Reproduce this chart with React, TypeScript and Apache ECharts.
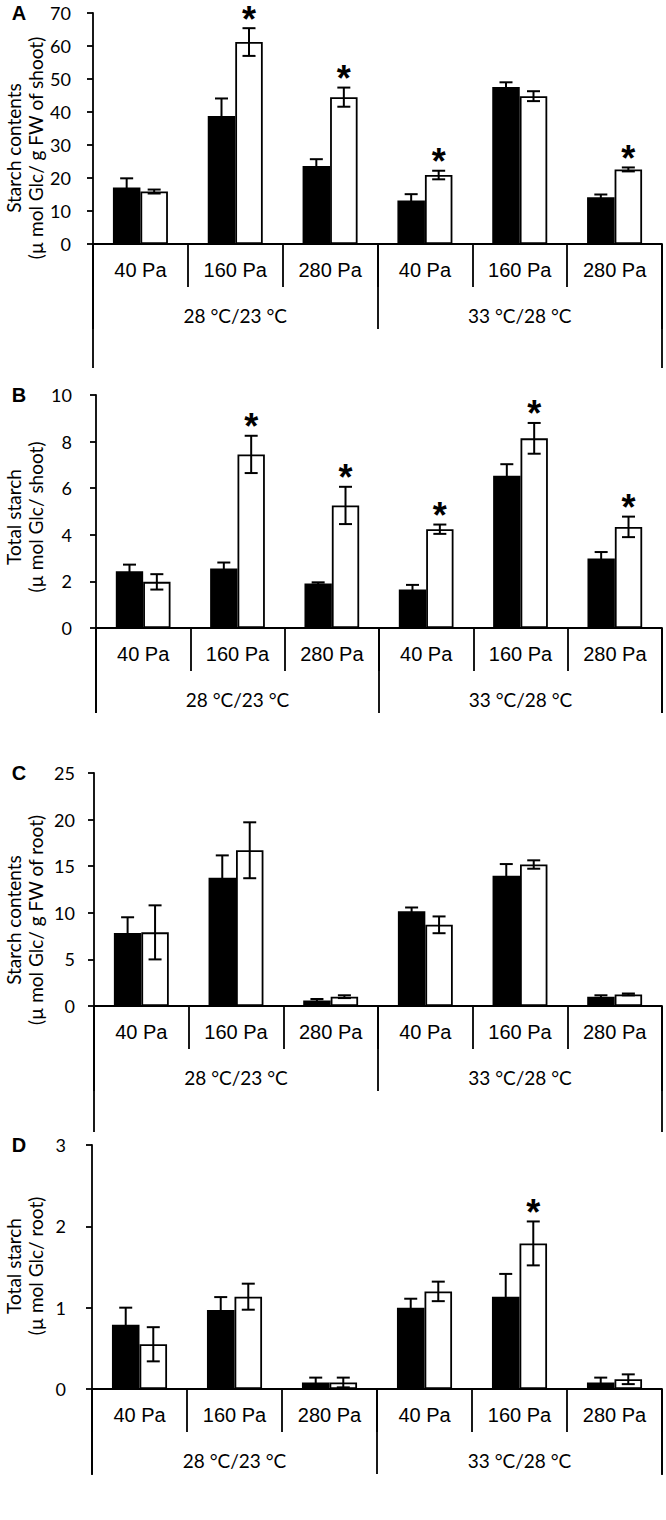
import React, { useEffect, useRef } from "react";
import * as echarts from "echarts";

// ---------- data ----------
const pressures = ["40 Pa", "160 Pa", "280 Pa", "40 Pa", "160 Pa", "280 Pa"];
const temps = ["28 °C/23 °C", "33 °C/28 °C"];

// Panel A – starch contents (shoot)
const aBlack = [17.1, 38.8, 23.6, 13.2, 47.6, 14.2];
const aBlackErr = [2.8, 5.3, 2.1, 1.9, 1.4, 0.8];
const aWhite = [15.9, 61.2, 44.5, 20.9, 44.8, 22.6];
const aWhiteErr = [0.6, 4.2, 2.9, 1.3, 1.5, 0.6];
const aSig = [0, 1, 1, 1, 0, 1];

// Panel B – total starch (shoot)
const bBlack = [2.44, 2.55, 1.91, 1.65, 6.53, 2.98];
const bBlackErr = [0.28, 0.26, 0.05, 0.2, 0.5, 0.28];
const bWhite = [1.98, 7.45, 5.26, 4.24, 8.14, 4.34];
const bWhiteErr = [0.33, 0.8, 0.8, 0.2, 0.66, 0.44];
const bSig = [0, 1, 1, 1, 1, 1];

// Panel C – starch contents (root)
const cBlack = [7.82, 13.76, 0.6, 10.17, 13.98, 1.0];
const cBlackErr = [1.7, 2.4, 0.15, 0.4, 1.25, 0.15];
const cWhite = [7.9, 16.71, 1.0, 8.71, 15.18, 1.24];
const cWhiteErr = [2.9, 3.0, 0.15, 0.9, 0.45, 0.1];
const cSig = [0, 0, 0, 0, 0, 0];

// Panel D – total starch (root)
const dBlack = [0.79, 0.97, 0.08, 1.0, 1.135, 0.08];
const dBlackErr = [0.21, 0.16, 0.06, 0.11, 0.28, 0.06];
const dWhite = [0.55, 1.135, 0.08, 1.2, 1.79, 0.12];
const dWhiteErr = [0.21, 0.16, 0.06, 0.12, 0.27, 0.06];
const dSig = [0, 0, 0, 0, 1, 0];

// y axis scales
const yMax = [70, 10, 25, 3];
const yStep = [10, 2, 5, 1];

const panelLetters = ["A", "B", "C", "D"];
const titleLine1 = ["Starch contents", "Total starch", "Starch contents", "Total starch"];
const titleLine2 = [
  "(µ mol Glc/ g FW of shoot)",
  "(µ mol Glc/ shoot)",
  "(µ mol Glc/ g FW of root)",
  "(µ mol Glc/ root)",
];

// ---------- layout ----------
const layout = [
  { left: 93, top: 13, width: 569, height: 231, titleY: 148, labelMargin: 22, outer: 124 },
  { left: 96, top: 395, width: 566, height: 233, titleY: 517, labelMargin: 24, outer: 85 },
  { left: 94, top: 773, width: 568, height: 233, titleY: 920, labelMargin: 19, outer: 126 },
  { left: 92, top: 1145, width: 570, height: 244, titleY: 1266, labelMargin: 26, outer: 86 },
];

const BAR_FRAC = 0.29;
const LINE = { color: "#000", width: 1.8 };

const panels = [
  { black: aBlack, blackErr: aBlackErr, white: aWhite, whiteErr: aWhiteErr, sig: aSig },
  { black: bBlack, blackErr: bBlackErr, white: bWhite, whiteErr: bWhiteErr, sig: bSig },
  { black: cBlack, blackErr: cBlackErr, white: cWhite, whiteErr: cWhiteErr, sig: cSig },
  { black: dBlack, blackErr: dBlackErr, white: dWhite, whiteErr: dWhiteErr, sig: dSig },
];

function errSeries(i: number, vals: number[], errs: number[], sig: number[] | null, side: number) {
  return {
    type: "custom",
    xAxisIndex: 3 * i,
    yAxisIndex: i,
    z: 10,
    data: vals.map((v, k) => [k, v, errs[k], sig ? sig[k] : 0]),
    encode: { x: 0, y: 1 },
    renderItem: (params: any, api: any) => {
      const k = api.value(0);
      const v = api.value(1);
      const e = api.value(2);
      const s = api.value(3);
      const band = api.size([1, 0])[0];
      const cx = api.coord([k, v])[0];
      const x = cx + (side * band * BAR_FRAC) / 2;
      const yTop = api.coord([k, v + e])[1];
      const yBot = api.coord([k, Math.max(0, v - e)])[1];
      const cap = 6.5;
      const style = { stroke: "#000", lineWidth: 2 };
      const children: any[] = [
        { type: "line", shape: { x1: x, y1: yTop, x2: x, y2: yBot }, style },
        { type: "line", shape: { x1: x - cap, y1: yTop, x2: x + cap, y2: yTop }, style },
        { type: "line", shape: { x1: x - cap, y1: yBot, x2: x + cap, y2: yBot }, style },
      ];
      if (s) {
        children.push({
          type: "text",
          x,
          y: yTop - 9,
          style: {
            text: "*",
            fill: "#000",
            font: 'bold 36px "Liberation Sans"',
            align: "center",
            verticalAlign: "middle",
            textAlign: "center",
            textVerticalAlign: "middle",
          },
        });
      }
      return { type: "group", children };
    },
  };
}

function buildOption() {
  const grid: any[] = [];
  const xAxis: any[] = [];
  const yAxis: any[] = [];
  const series: any[] = [];
  const graphic: any[] = [];

  layout.forEach((L, i) => {
    grid.push({ left: L.left, top: L.top, width: L.width, height: L.height, containLabel: false });
    xAxis.push({
      type: "category",
      gridIndex: i,
      position: "bottom",
      data: pressures,
      axisLine: { show: true, lineStyle: LINE },
      axisTick: { show: true, length: 43, interval: 0, lineStyle: LINE },
      axisLabel: {
        interval: 0,
        margin: 16,
        fontSize: 20,
        lineHeight: 20,
        fontFamily: "Liberation Sans",
        color: "#000",
      },
      splitLine: { show: false },
    });
    xAxis.push({
      type: "category",
      gridIndex: i,
      position: "bottom",
      data: temps,
      axisLine: { show: false },
      axisTick: { show: true, length: 85, interval: 0, lineStyle: LINE },
      axisLabel: {
        interval: 0,
        margin: 61,
        fontSize: 19,
        lineHeight: 20,
        fontFamily: "Lato",
        color: "#000",
      },
      splitLine: { show: false },
    });
    xAxis.push({
      type: "category",
      gridIndex: i,
      position: "bottom",
      data: [""],
      axisLine: { show: false },
      axisTick: { show: true, length: L.outer, interval: 0, lineStyle: LINE },
      axisLabel: { show: false },
      splitLine: { show: false },
    });
    yAxis.push({
      type: "value",
      gridIndex: i,
      min: 0,
      max: yMax[i],
      interval: yStep[i],
      axisLine: { show: true, lineStyle: LINE },
      axisTick: { show: true, length: 6, inside: false, lineStyle: LINE },
      splitLine: { show: false },
      axisLabel: {
        margin: L.labelMargin,
        fontSize: 18,
        fontFamily: "Lato",
        color: "#000",
      },
    });

    const P = panels[i];
    series.push({
      type: "bar",
      xAxisIndex: 3 * i,
      yAxisIndex: i,
      data: P.black,
      barWidth: BAR_FRAC * 100 + "%",
      barGap: "0%",
      itemStyle: { color: "#000", borderColor: "#000", borderWidth: 1.5 },
      z: 2,
    });
    series.push({
      type: "bar",
      xAxisIndex: 3 * i,
      yAxisIndex: i,
      data: P.white,
      barWidth: BAR_FRAC * 100 + "%",
      barGap: "0%",
      itemStyle: { color: "#fff", borderColor: "#000", borderWidth: 1.8 },
      z: 3,
    });
    series.push(errSeries(i, P.black, P.blackErr, null, -1));
    series.push(errSeries(i, P.white, P.whiteErr, P.sig, 1));

    graphic.push({
      type: "text",
      x: 19,
      y: L.top,
      style: {
        text: panelLetters[i],
        font: 'bold 20px "Liberation Sans"',
        fill: "#000",
        align: "center",
        verticalAlign: "middle",
        textAlign: "center",
        textVerticalAlign: "middle",
      },
    });
    graphic.push({
      type: "text",
      x: 13,
      y: L.titleY,
      rotation: Math.PI / 2,
      style: {
        text: titleLine1[i],
        font: '19px "Lato"',
        fill: "#000",
        align: "center",
        verticalAlign: "middle",
        textAlign: "center",
        textVerticalAlign: "middle",
      },
    });
    graphic.push({
      type: "text",
      x: 35,
      y: L.titleY,
      rotation: Math.PI / 2,
      style: {
        text: titleLine2[i],
        font: '19px "Lato"',
        fill: "#000",
        align: "center",
        verticalAlign: "middle",
        textAlign: "center",
        textVerticalAlign: "middle",
      },
    });
  });

  return {
    animation: false,
    backgroundColor: "#fff",
    textStyle: { fontFamily: "Lato", color: "#000" },
    grid,
    xAxis,
    yAxis,
    series,
    graphic,
  };
}

export default function App() {
  const ref = useRef<HTMLDivElement>(null);
  useEffect(() => {
    if (!ref.current) return;
    const chart = echarts.init(ref.current, null, { renderer: "svg" });
    chart.setOption(buildOption() as any);
    return () => chart.dispose();
  }, []);
  return (
    <div
      ref={ref}
      style={{ position: "absolute", left: 0, top: 0, width: 666, height: 1520, background: "#fff" }}
    />
  );
}
